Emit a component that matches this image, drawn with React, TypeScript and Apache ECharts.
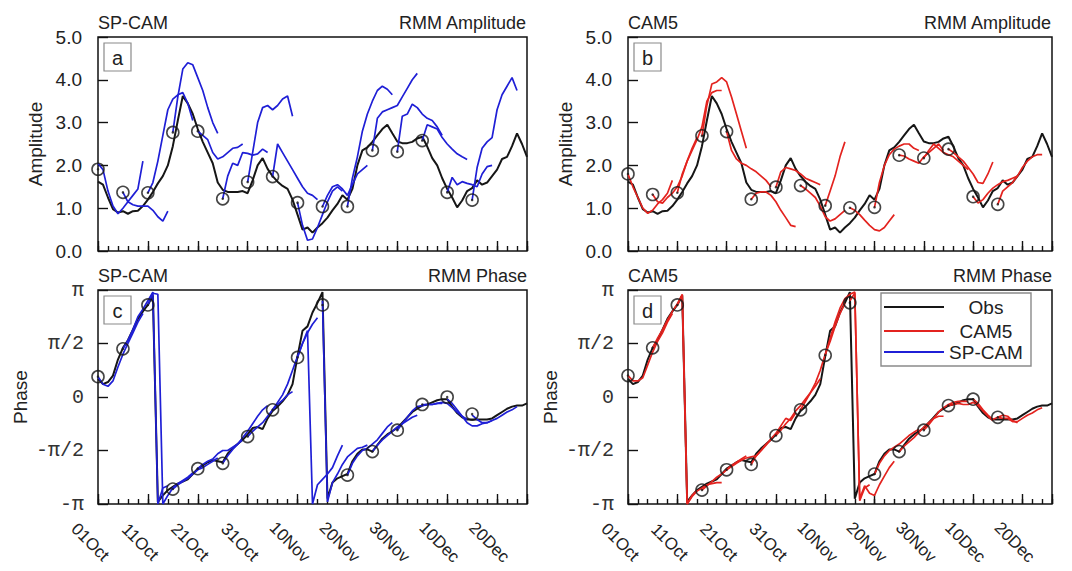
import React, { useEffect, useRef } from 'react';
import * as echarts from 'echarts';

const FONT = "'Liberation Sans', Arial, Helvetica, sans-serif";
const MONO = "'Liberation Mono', 'DejaVu Sans Mono', monospace";

const initDays = [0, 5, 10, 15, 20, 25, 30, 35, 40, 45, 50, 55, 60, 65, 70, 75];
const dayTickLabels = ['01Oct', '11Oct', '21Oct', '31Oct', '10Nov', '20Nov', '30Nov', '10Dec', '20Dec'];
const phaseTickLabels: Record<string, string> = { '-1': '-π', '-0.5': '-π/2', '0': '0', '0.5': 'π/2', '1': 'π' };

// Observed RMM amplitude, daily from 01Oct
const obsAmp = [
  1.62, 1.55, 1.25, 0.98, 0.9, 0.93, 0.87, 0.93, 0.94, 1.05,
  1.2, 1.38, 1.58, 1.75, 2.0, 2.45, 3.05, 3.62, 3.45, 3.2,
  2.85, 2.55, 2.3, 2.05, 1.6, 1.43, 1.38, 1.38, 1.38, 1.4,
  1.35, 1.65, 2.0, 2.17, 1.92, 1.75, 1.62, 1.52, 1.45, 1.2,
  0.85, 0.5, 0.55, 0.43, 0.55, 0.65, 0.78, 0.95, 1.1, 1.3,
  1.2, 1.45, 2.0, 2.35, 2.42, 2.55, 2.7, 2.85, 2.95, 2.75,
  2.56, 2.52, 2.52, 2.55, 2.63, 2.67, 2.44, 2.17, 2.0, 1.7,
  1.45, 1.25, 1.02, 1.18, 1.4, 1.47, 1.65, 1.55, 1.6, 1.75,
  1.9, 2.15, 2.2, 2.45, 2.75, 2.5, 2.2,
];

// Observed RMM phase (units of pi), daily from 01Oct
const obsPhase = [
  0.17, 0.12, 0.14, 0.2, 0.35, 0.46, 0.53, 0.63, 0.73, 0.8,
  0.86, 0.95, -0.98, -0.92, -0.87, -0.84, -0.81, -0.79, -0.77, -0.72,
  -0.67, -0.64, -0.61, -0.59, -0.6, -0.61, -0.53, -0.48, -0.44, -0.4,
  -0.35, -0.29, -0.28, -0.3, -0.2, -0.13, -0.09, -0.04, 0.02, 0.12,
  0.38, 0.62, 0.66, 0.79, 0.88, 0.98, -0.95, -0.8, -0.76, -0.74,
  -0.72, -0.6, -0.53, -0.49, -0.49, -0.51, -0.45, -0.39, -0.35, -0.32,
  -0.29, -0.24, -0.19, -0.14, -0.11, -0.08, -0.07, -0.05, -0.03, -0.02,
  -0.02, -0.09, -0.15, -0.19, -0.21, -0.21, -0.21, -0.21, -0.21, -0.2,
  -0.17, -0.14, -0.11, -0.09, -0.08, -0.08, -0.06,
];

// Circles at forecast initial dates
const circleAmpA = [1.91, 1.37, 1.36, 2.77, 2.8, 1.22, 1.61, 1.74, 1.13, 1.04, 1.04, 2.35, 2.32, 2.58, 1.37, 1.19];
const circleAmpB = [1.8, 1.32, 1.36, 2.69, 2.79, 1.21, 1.49, 1.53, 1.06, 1.01, 1.02, 2.24, 2.17, 2.38, 1.27, 1.09];
const circlePhaseC = [0.19, 0.45, 0.86, -0.86, -0.67, -0.62, -0.37, -0.12, 0.37, 0.86, -0.73, -0.51, -0.31, -0.07, 0.0, -0.16];
const circlePhaseD = [0.2, 0.46, 0.86, -0.87, -0.68, -0.63, -0.36, -0.12, 0.39, 0.88, -0.72, -0.51, -0.31, -0.08, -0.02, -0.19];

// SP-CAM amplitude forecasts (daily from each init day)
const spcamAmp = [
  [2.05, 1.9, 1.4, 1.05, 0.87, 1.0, 1.15, 1.3, 1.45, 2.1],
  [1.37, 1.15, 1.08, 1.05, 1.05, 1.05, 0.95, 0.8, 0.7, 0.93],
  [1.36, 1.6, 2.1, 2.7, 3.3, 3.55, 3.65, 3.7, 3.45, 3.05],
  [2.77, 3.6, 4.25, 4.4, 4.35, 4.05, 3.75, 3.35, 3.0, 2.75],
  [2.8, 2.7, 2.6, 2.3, 2.15, 2.2, 2.3, 2.4, 2.42, 2.5],
  [1.22, 1.75, 2.05, 2.0, 2.3, 2.28, 2.24, 2.27, 2.38, 2.3],
  [1.61, 2.3, 3.0, 3.35, 3.4, 3.3, 3.4, 3.55, 3.62, 3.15],
  [1.74, 2.5, 2.3, 2.1, 1.9, 1.7, 1.5, 1.35, 1.3, 1.2],
  [1.13, 0.6, 0.25, 0.28, 0.55, 0.85, 1.15, 1.4, 1.5, 1.4],
  [1.04, 1.3, 1.5, 1.55, 1.45, 1.3, 1.55, 1.8, 1.9, 2.0],
  [1.04, 1.7, 2.2, 2.8, 3.2, 3.5, 3.75, 3.85, 3.78, 3.65],
  [2.35, 3.1, 3.25, 3.3, 3.35, 3.4, 3.6, 3.8, 4.0, 4.15],
  [2.32, 3.15, 3.2, 3.43, 3.35, 3.2, 3.1, 3.05, 2.9, 2.7],
  [2.58, 2.95, 2.9, 2.85, 2.65, 2.5, 2.38, 2.27, 2.2, 2.14],
  [1.37, 1.72, 1.55, 1.62, 1.58, 1.55, 1.5, 1.8, 1.97, 2.0],
  [1.19, 1.95, 2.4, 2.55, 2.65, 3.3, 3.65, 3.85, 4.05, 3.75],
];

// CAM5 amplitude forecasts
const cam5Amp = [
  [1.8, 1.5, 1.25, 1.0, 0.88, 0.95, 1.1, 1.2, 1.35, 1.65],
  [1.32, 1.15, 1.12, 1.25, 1.35, 1.5, 1.75, 2.1, 2.4, 2.65],
  [1.36, 1.8, 2.1, 2.35, 2.6, 2.9, 3.5, 3.7, 3.75, 3.75],
  [2.69, 3.4, 3.9, 3.95, 4.05, 3.95, 3.6, 3.2, 2.8, 2.4],
  [2.79, 2.35, 2.15, 2.05, 2.0, 1.92, 1.85, 1.75, 1.65, 1.5],
  [1.21, 1.35, 1.38, 1.38, 1.3, 1.15, 0.95, 0.78, 0.6, 0.57],
  [1.49, 1.85, 1.95, 1.92, 1.88, 1.8, 1.7, 1.65, 1.6, 1.55],
  [1.53, 1.45, 1.35, 1.25, 1.05, 0.8, 0.7, 0.75, 0.85, 0.95],
  [1.06, 1.4, 1.75, 2.2, 2.55],
  [1.01, 0.95, 0.85, 0.72, 0.6, 0.5, 0.47, 0.55, 0.7, 0.85],
  [1.02, 1.6, 2.0, 2.25, 2.38, 2.45, 2.5, 2.5, 2.4, 2.35],
  [2.24, 2.22, 2.15, 2.1, 2.05, 2.2, 2.3, 2.4, 2.5, 2.35],
  [2.17, 2.35, 2.5, 2.4, 2.3, 2.25, 2.2, 2.1, 2.0, 1.9],
  [2.38, 2.3, 2.2, 2.1, 1.95, 1.8, 1.6, 1.58, 1.8, 2.08],
  [1.27, 1.12, 1.2, 1.35, 1.47, 1.55, 1.62, 1.65, 1.7, 1.75],
  [1.09, 1.4, 1.5, 1.6, 1.75, 1.95, 2.1, 2.2, 2.25, 2.25],
];

// SP-CAM phase forecasts (units of pi)
const spcamPhase = [
  [0.19, 0.12, 0.1, 0.15, 0.28, 0.4, 0.5, 0.6, 0.7, 0.78],
  [0.45, 0.53, 0.63, 0.75, 0.82, 0.9, 0.98, -1.0, -0.85, -0.83],
  [0.86, 0.97, 0.96, -1.0, -0.92, -0.85, -0.81, -0.78, -0.75, -0.71],
  [-0.86, -0.82, -0.79, -0.76, -0.72, -0.68, -0.66, -0.63, -0.6, -0.57],
  [-0.67, -0.63, -0.6, -0.58, -0.53, -0.5, -0.5, -0.47, -0.44, -0.4],
  [-0.62, -0.55, -0.49, -0.44, -0.38, -0.32, -0.25, -0.18, -0.12, -0.08],
  [-0.37, -0.32, -0.28, -0.24, -0.18, -0.12, -0.07, -0.03, 0.02, 0.05],
  [-0.12, -0.05, 0.02, 0.12, 0.25, 0.38, 0.5, 0.6, 0.68, 0.74],
  [0.37, 0.5, 0.62, -1.0, -0.82, -0.77, -0.72, -0.66, -0.55, -0.45],
  [0.9, -0.98, -0.8, -0.72, -0.63, -0.56, -0.52, -0.48, -0.47, -0.45],
  [-0.73, -0.62, -0.55, -0.5, -0.48, -0.44, -0.4, -0.34, -0.28, -0.24],
  [-0.51, -0.45, -0.4, -0.36, -0.32, -0.28, -0.25, -0.22, -0.19, -0.17],
  [-0.31, -0.25, -0.19, -0.13, -0.09, -0.08, -0.07, -0.07, -0.06, -0.06],
  [-0.07, -0.07, -0.07, -0.06, -0.05, -0.06, -0.1, -0.14, -0.18, -0.21],
  [-0.02, -0.06, -0.12, -0.18, -0.24, -0.27, -0.27, -0.25, -0.24, -0.22],
  [-0.17, -0.21, -0.24, -0.24, -0.22, -0.2, -0.17, -0.14, -0.12, -0.09],
];

// CAM5 phase forecasts (units of pi)
const cam5Phase = [
  [0.2, 0.15, 0.15, 0.18, 0.3, 0.42, 0.52, 0.6, 0.7, 0.78],
  [0.46, 0.55, 0.63, 0.72, 0.8, 0.87, 0.96, -1.0, -0.92, -0.87],
  [0.86, 0.95, -1.0, -0.93, -0.88, -0.85, -0.82, -0.81, -0.8, -0.8],
  [-0.87, -0.83, -0.79, -0.75, -0.72, -0.68, -0.64, -0.61, -0.58, -0.55],
  [-0.68, -0.65, -0.62, -0.59, -0.57, -0.56, -0.55, -0.5, -0.44, -0.4],
  [-0.63, -0.55, -0.5, -0.45, -0.39, -0.34, -0.27, -0.2, -0.22, -0.15],
  [-0.36, -0.31, -0.25, -0.2, -0.13, -0.08, -0.02, 0.04, 0.1, 0.17],
  [-0.12, -0.04, 0.04, 0.13, 0.25, 0.4, 0.52, 0.66, 0.78, 0.88],
  [0.39, 0.55, 0.7, 0.83, 0.92, 0.96, 0.98, -0.97, -0.85, -0.82],
  [0.9, 0.97, -0.95, -0.83, -0.9, -0.92, -0.82, -0.74, -0.66, -0.6],
  [-0.72, -0.62, -0.55, -0.5, -0.47, -0.44, -0.4, -0.36, -0.33, -0.3],
  [-0.51, -0.46, -0.42, -0.38, -0.33, -0.28, -0.24, -0.2, -0.18, -0.18],
  [-0.31, -0.26, -0.2, -0.14, -0.1, -0.07, -0.05, -0.04, -0.04, -0.04],
  [-0.08, -0.07, -0.06, -0.07, -0.07, -0.05, -0.08, -0.13, -0.18, -0.22],
  [-0.02, -0.06, -0.12, -0.17, -0.21, -0.19, -0.17, -0.18, -0.22, -0.24],
  [-0.19, -0.2, -0.2, -0.23, -0.23, -0.2, -0.17, -0.15, -0.12, -0.1],
];

const BLACK = '#161616';
const BLUE = '#1f1fd6';
const RED = '#e3231f';

const GRIDS = [
  { left: 98, top: 37, width: 429, height: 214 },
  { left: 628, top: 37, width: 424, height: 214 },
  { left: 98, top: 290, width: 429, height: 214 },
  { left: 628, top: 290, width: 424, height: 214 },
];

function buildOption() {
  const tickStyle = { color: '#111', width: 1.4 };
  const xAxes: any[] = [];
  const yAxes: any[] = [];
  GRIDS.forEach((_, g) => {
    const bottomRow = g >= 2;
    xAxes.push({
      gridIndex: g, type: 'value', position: 'bottom', min: 0, max: 86, interval: 10,
      axisLine: { show: false, onZero: false },
      axisTick: { show: true, inside: true, length: 10, lineStyle: tickStyle },
      splitLine: { show: false },
      axisLabel: bottomRow
        ? {
            show: true, rotate: -45, align: 'center', verticalAlign: 'middle',
            margin: 46, padding: [0, 22, 0, 0], fontSize: 17, color: '#222', fontFamily: FONT,
            formatter: (v: number) => (v % 10 === 0 && v / 10 < dayTickLabels.length ? dayTickLabels[v / 10] : ''),
          }
        : { show: false },
    });
    xAxes.push({
      gridIndex: g, type: 'value', position: 'bottom', min: 0, max: 86, interval: 2,
      axisLine: { show: false, onZero: false },
      axisTick: { show: true, inside: true, length: 5, lineStyle: tickStyle },
      splitLine: { show: false },
      axisLabel: { show: false },
    });
    if (!bottomRow) {
      yAxes.push({
        gridIndex: g, type: 'value', position: 'left', min: 0, max: 5, interval: 1,
        name: 'Amplitude', nameLocation: 'middle', nameGap: 53,
        nameTextStyle: { fontSize: 19, color: '#222', fontFamily: FONT },
        axisLine: { show: false, onZero: false },
        axisTick: { show: true, inside: true, length: 10, lineStyle: tickStyle },
        splitLine: { show: false },
        axisLabel: { fontSize: 19, color: '#222', fontFamily: FONT, margin: 16, formatter: (v: number) => v.toFixed(1) },
      });
    } else {
      yAxes.push({
        gridIndex: g, type: 'value', position: 'left', min: -1, max: 1, interval: 0.5,
        name: 'Phase', nameLocation: 'middle', nameGap: 68,
        nameTextStyle: { fontSize: 19, color: '#222', fontFamily: FONT },
        axisLine: { show: false, onZero: false },
        axisTick: { show: true, inside: true, length: 10, lineStyle: tickStyle },
        splitLine: { show: false },
        axisLabel: {
          fontSize: 20, color: '#333', fontFamily: MONO, margin: 14,
          formatter: (v: number) => phaseTickLabels[String(Math.round(v * 2) / 2)] ?? '',
        },
      });
    }
  });

  const series: any[] = [];
  const obsLine = (g: number, vals: number[]) => ({
    type: 'line', name: 'Obs', xAxisIndex: g * 2, yAxisIndex: g, z: 2,
    data: vals.map((v, i) => [i, v]), showSymbol: false, symbol: 'none',
    lineStyle: { color: BLACK, width: 2 }, silent: true,
  });
  const fcLines = (g: number, list: number[][], color: string, name: string) =>
    list.map((vals, k) => ({
      type: 'line', name, xAxisIndex: g * 2, yAxisIndex: g, z: 3,
      data: vals.map((v, i) => [initDays[k] + i, v]), showSymbol: false, symbol: 'none',
      lineStyle: { color, width: 1.7 }, silent: true,
    }));
  const circles = (g: number, vals: number[]) => [
    {
      type: 'scatter', name: 'Obs', xAxisIndex: g * 2, yAxisIndex: g, z: 5, symbol: 'circle', symbolSize: 12,
      data: vals.map((v, k) => [initDays[k], v]),
      itemStyle: { color: 'rgba(0,0,0,0)', borderColor: BLACK, borderWidth: 1.6 }, silent: true, clip: false,
    },
    {
      type: 'scatter', name: 'Obs', xAxisIndex: g * 2, yAxisIndex: g, z: 5, symbol: 'circle', symbolSize: 2.5,
      data: vals.map((v, k) => [initDays[k], v]),
      itemStyle: { color: BLACK }, silent: true, clip: false,
    },
  ];

  series.push(obsLine(0, obsAmp), ...fcLines(0, spcamAmp, BLUE, 'SP-CAM'), ...circles(0, circleAmpA));
  series.push(obsLine(1, obsAmp), ...fcLines(1, cam5Amp, RED, 'CAM5'), ...circles(1, circleAmpB));
  series.push(obsLine(2, obsPhase), ...fcLines(2, spcamPhase, BLUE, 'SP-CAM'), ...circles(2, circlePhaseC));
  series.push(obsLine(3, obsPhase), ...fcLines(3, cam5Phase, RED, 'CAM5'), ...circles(3, circlePhaseD));

  const titleStyle = { fontSize: 18, fontWeight: 'normal', color: '#222', fontFamily: FONT };
  const panelTitles = [
    ['SP-CAM', 'RMM Amplitude'],
    ['CAM5', 'RMM Amplitude'],
    ['SP-CAM', 'RMM Phase'],
    ['CAM5', 'RMM Phase'],
  ];
  const titles: any[] = [];
  GRIDS.forEach((gr, g) => {
    titles.push({ text: panelTitles[g][0], left: gr.left, top: gr.top - 23, padding: 0, textStyle: titleStyle });
    titles.push({ text: panelTitles[g][1], right: 1072 - (gr.left + gr.width), top: gr.top - 23, padding: 0, textStyle: titleStyle });
  });

  const letters = ['a', 'b', 'c', 'd'];
  const graphics: any[] = [];
  GRIDS.forEach((gr, g) => {
    graphics.push({
      type: 'rect', shape: { x: gr.left + 6, y: gr.top + 6, width: 27, height: 28 },
      style: { fill: '#fff', stroke: '#8a8a8a', lineWidth: 1.2 }, z: 10,
    });
    graphics.push({
      type: 'text', x: gr.left + 19.5, y: gr.top + 20.5,
      style: { text: letters[g], fill: '#222', font: `20px ${FONT}`, align: 'center', verticalAlign: 'middle', textAlign: 'center', textVerticalAlign: 'middle' },
      z: 11,
    });
  });

  // legend in panel d
  const lg = { x: 881, y: 293, w: 150, h: 73 };
  graphics.push({
    type: 'rect', shape: { x: lg.x, y: lg.y, width: lg.w, height: lg.h },
    style: { fill: '#fff', stroke: '#8a8a8a', lineWidth: 1.4 }, z: 10,
  });
  const legendItems = [
    { name: 'Obs', color: BLACK, dy: 14 },
    { name: 'CAM5', color: RED, dy: 38 },
    { name: 'SP-CAM', color: BLUE, dy: 59 },
  ];
  legendItems.forEach((it) => {
    graphics.push({
      type: 'line', shape: { x1: lg.x + 3, y1: lg.y + it.dy, x2: lg.x + 63, y2: lg.y + it.dy },
      style: { stroke: it.color, lineWidth: 2 }, z: 11,
    });
    graphics.push({
      type: 'text', x: lg.x + 105, y: lg.y + it.dy,
      style: { text: it.name, fill: '#222', font: `19px ${FONT}`, align: 'center', verticalAlign: 'middle', textAlign: 'center', textVerticalAlign: 'middle' },
      z: 11,
    });
  });

  return {
    animation: false,
    backgroundColor: '#ffffff',
    title: titles,
    grid: GRIDS.map((gr) => ({ ...gr, show: true, borderColor: '#111', borderWidth: 1.5, backgroundColor: 'transparent' })),
    xAxis: xAxes,
    yAxis: yAxes,
    series,
    graphic: graphics,
  };
}

export default function App() {
  const ref = useRef<HTMLDivElement | null>(null);
  useEffect(() => {
    document.body.style.margin = '0';
    if (!ref.current) return;
    const chart = echarts.init(ref.current, null, { renderer: 'svg' });
    chart.setOption(buildOption() as any);
    return () => {
      chart.dispose();
    };
  }, []);
  return <div ref={ref} style={{ width: 1072, height: 571 }} />;
}
